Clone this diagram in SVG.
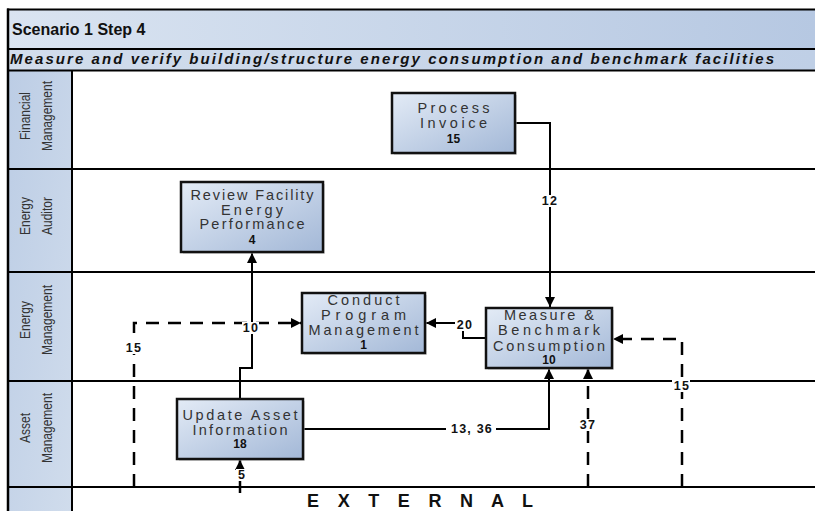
<svg xmlns="http://www.w3.org/2000/svg" width="815" height="511" viewBox="0 0 815 511">
<defs>
<linearGradient id="gTitle" x1="0" y1="0" x2="1" y2="0"><stop offset="0" stop-color="#dae4f1"/><stop offset="1" stop-color="#b6c8e2"/></linearGradient>
<linearGradient id="gSub" x1="0" y1="0" x2="1" y2="0"><stop offset="0" stop-color="#d2ddec"/><stop offset="1" stop-color="#bfcfe6"/></linearGradient>
<linearGradient id="gLane" x1="0" y1="0" x2="1" y2="1"><stop offset="0" stop-color="#bccde5"/><stop offset="1" stop-color="#d0dcec"/></linearGradient>
<linearGradient id="gNode" x1="0" y1="0" x2="1" y2="1"><stop offset="0" stop-color="#e3ebf6"/><stop offset="1" stop-color="#a3b8d7"/></linearGradient>
<marker id="arr" viewBox="0 0 10 10" refX="10" refY="5" markerWidth="10" markerHeight="10" markerUnits="userSpaceOnUse" orient="auto"><path d="M0,0 L10,5 L0,10 z" fill="#000"/></marker>
</defs>
<style>
.t{font-family:"Liberation Sans",Arial,sans-serif;text-anchor:middle}
.lbl{font-size:14.5px;fill:#333}
.num{font-size:12px;font-weight:bold;fill:#111}
.lane{font-size:15px;fill:#333}
.cl{font-size:12.5px;font-weight:bold;fill:#111;letter-spacing:1.2px}
.sol{fill:none;stroke:#000;stroke-width:2}
.dsh{fill:none;stroke:#000;stroke-width:2.5;stroke-dasharray:13 9}
.box{fill:url(#gNode);stroke:#111;stroke-width:2.5}
.shd{fill:#bbb;opacity:0.5}
.ln{stroke:#000;stroke-width:2;fill:none}
.bg{fill:#fff}
</style>
<rect x="0" y="0" width="815" height="511" fill="#fff"/>
<g id="frame">
<rect x="8" y="9.5" width="807" height="39.5" fill="url(#gTitle)"/>
<rect x="8" y="49" width="807" height="21.5" fill="url(#gSub)"/>
<rect x="8" y="70.5" width="64" height="441" fill="url(#gLane)"/>
<path class="ln" d="M7,9.5 H815 M8,49 H815 M8,70.5 H815 M8,169 H815 M8,272 H815 M8,381 H815 M8,487 H815 M72,70.5 V511"/>
<path d="M8,8.5 V511" stroke="#000" stroke-width="2.5"/>
<text x="12" y="35" font-family="'Liberation Sans',Arial,sans-serif" font-size="16" font-weight="bold" fill="#111">Scenario 1 Step 4</text>
<text x="10" y="64" font-family="'Liberation Sans',Arial,sans-serif" font-size="15" font-weight="bold" font-style="italic" fill="#111" textLength="764" lengthAdjust="spacing">Measure and verify building/structure energy consumption and benchmark facilities</text>
</g>
<g id="lane-financial" transform="translate(0,116) rotate(-90) scale(0.8,1)"><text class="t lane" x="0" y="30">Financial</text><text class="t lane" x="0" y="52">Management</text></g>
<g id="lane-auditor" transform="translate(0,216) rotate(-90) scale(0.8,1)"><text class="t lane" x="0" y="30">Energy</text><text class="t lane" x="0" y="52">Auditor</text></g>
<g id="lane-energy" transform="translate(0,320) rotate(-90) scale(0.8,1)"><text class="t lane" x="0" y="30">Energy</text><text class="t lane" x="0" y="52">Management</text></g>
<g id="lane-asset" transform="translate(0,428) rotate(-90) scale(0.8,1)"><text class="t lane" x="0" y="30">Asset</text><text class="t lane" x="0" y="52">Management</text></g>
<g id="lane-external"><text x="307" y="506.5" font-family="'Liberation Sans',Arial,sans-serif" font-size="18" font-weight="bold" fill="#111" textLength="226" lengthAdjust="spacing">E X T E R N A L</text></g>

<g id="connectors">
<path class="sol" marker-end="url(#arr)" d="M515,123 H550 V307"/>
<path class="sol" marker-end="url(#arr)" d="M240,399 V368 H252 V253"/>
<path class="dsh" marker-end="url(#arr)" d="M134,487 V323 H301"/>
<path class="sol" marker-end="url(#arr)" d="M486,338 H463 V323 H426"/>
<path class="sol" marker-end="url(#arr)" d="M303,429 H549 V369"/>
<path class="dsh" marker-end="url(#arr)" d="M588,487 V369"/>
<path class="dsh" marker-end="url(#arr)" d="M682,487 V339 H613"/>
<path class="dsh" marker-end="url(#arr)" d="M240,493 V460"/>
<rect class="bg" x="541" y="195" width="17" height="12"/><text class="t cl" x="550" y="205">12</text>
<rect class="bg" x="242" y="322" width="17" height="12"/><text class="t cl" x="251" y="332">10</text>
<rect class="bg" x="125" y="342" width="17" height="12"/><text class="t cl" x="134" y="352">15</text>
<rect class="bg" x="455" y="319" width="18" height="12"/><text class="t cl" x="465" y="329">20</text>
<rect class="bg" x="446" y="423" width="50" height="12"/><text class="t cl" x="472" y="433">13, 36</text>
<rect class="bg" x="578" y="419" width="18" height="12"/><text class="t cl" x="588" y="429">37</text>
<rect class="bg" x="672" y="380" width="18" height="12"/><text class="t cl" x="682" y="390">15</text>
<rect class="bg" x="236" y="469" width="10" height="12"/><text class="t cl" x="242" y="479">5</text>
</g>

<g id="node-process-invoice">
<rect class="shd" x="394" y="95" width="123" height="60"/>
<rect class="box" x="392" y="93" width="123" height="60"/>
<text class="t lbl" x="453.5" y="113" textLength="72" lengthAdjust="spacing">Process</text>
<text class="t lbl" x="453.5" y="128" textLength="67" lengthAdjust="spacing">Invoice</text>
<text class="t num" x="453.5" y="143">15</text>
</g>
<g id="node-review-facility">
<rect class="shd" x="183" y="184" width="142" height="70"/>
<rect class="box" x="181" y="182" width="142" height="70"/>
<text class="t lbl" x="252" y="200" textLength="123" lengthAdjust="spacing">Review Facility</text>
<text class="t lbl" x="252" y="214.5" textLength="62" lengthAdjust="spacing">Energy</text>
<text class="t lbl" x="252" y="229" textLength="105" lengthAdjust="spacing">Performance</text>
<text class="t num" x="252" y="243.5">4</text>
</g>
<g id="node-conduct-program">
<rect class="shd" x="304" y="295" width="123" height="60"/>
<rect class="box" x="302" y="293" width="123" height="60"/>
<text class="t lbl" x="363.5" y="305" textLength="72" lengthAdjust="spacing">Conduct</text>
<text class="t lbl" x="363.5" y="320" textLength="85" lengthAdjust="spacing">Program</text>
<text class="t lbl" x="363.5" y="335" textLength="110" lengthAdjust="spacing">Management</text>
<text class="t num" x="363.5" y="349">1</text>
</g>
<g id="node-measure-benchmark">
<rect class="shd" x="488" y="310" width="126" height="60"/>
<rect class="box" x="486" y="308" width="126" height="60"/>
<text class="t lbl" x="549" y="320" textLength="90" lengthAdjust="spacing">Measure &amp;</text>
<text class="t lbl" x="549" y="335.3" textLength="102" lengthAdjust="spacing">Benchmark</text>
<text class="t lbl" x="549" y="350.7" textLength="112" lengthAdjust="spacing">Consumption</text>
<text class="t num" x="549" y="364">10</text>
</g>
<g id="node-update-asset">
<rect class="shd" x="179" y="401" width="126" height="60"/>
<rect class="box" x="177" y="399" width="126" height="60"/>
<text class="t lbl" x="240" y="420" textLength="115" lengthAdjust="spacing">Update Asset</text>
<text class="t lbl" x="240" y="435" textLength="95" lengthAdjust="spacing">Information</text>
<text class="t num" x="240" y="448">18</text>
</g>
</svg>
